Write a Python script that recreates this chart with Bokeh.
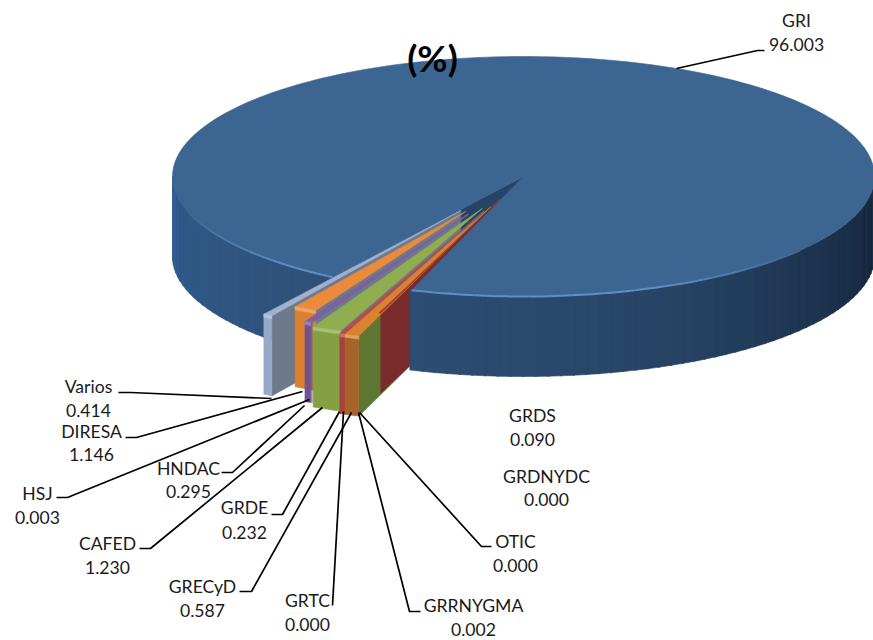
import math
from bokeh.plotting import figure
from bokeh.embed import file_html
from bokeh.resources import INLINE
from bokeh.models import ColumnDataSource
from bokeh.core.properties import value

# ---- data (clockwise from the big slice's end)
names = ["GRI", "GRDS", "GRDNYDC", "OTIC", "GRRNYGMA", "GRECyD", "GRTC", "GRDE",
         "CAFED", "HSJ", "HNDAC", "DIRESA", "Varios"]
values = [96.003, 0.090, 0.000, 0.000, 0.002, 0.587, 0.000, 0.232,
          1.230, 0.003, 0.295, 1.146, 0.414]
value_labels = ["96.003", "0.090", "0.000", "0.000", "0.002", "0.587", "0.000", "0.232",
                "1.230", "0.003", "0.295", "1.146", "0.414"]

# ---- look of each slice: explosion, radius, top, rim, wall, turn (degrees)
STYLE = {
    "GRDS":     (0.20, 1.01, "#a23a36", "#7a2b2b", "#7a2b2b", 1.0),
    "GRECyD":   (0.27, 1.14, "#d9822f", "#a5652a", "#5e7732", 0.3),
    "GRTC":     (0.31, 1.10, "#5b7fb5", "#5577aa", "#5577aa", 0),
    "GRDE":     (0.31, 1.10, "#b84a47", "#a8403e", "#7a2b2b", 0),
    "CAFED":    (0.29, 1.10, "#90ad4f", "#85a043", "#5e7732", -0.3),
    "HSJ":      (0.35, 1.01, "#7d609f", "#6f5290", "#5a4278", 0),
    "HNDAC":    (0.35, 1.01, "#7d609f", "#6f5290", "#5a4278", 0),
    "DIRESA":   (0.335, 0.93, "#ec8a3c", "#db8030", "#b06a28", 0),
    "Varios":   (0.335, 1.03, "#9fb1cf", "#97a9c9", "#6c7a8c", 0),
}

# ---- label layout: name xy, value xy, leader polyline (elbow points + end)
LABELS = {
    "GRI":      ((796, 20), (796, 44), [(764, 50), (757, 50), (676, 68)]),
    "Varios":   ((88, 386), (88, 410), [(118, 392), (130, 392), (271, 398)]),
    "DIRESA":   ((91, 431), (91, 454), [(125, 437), (136, 437), (302, 391)]),
    "HSJ":      ((37, 493), (37, 517), [(56, 497), (67, 497), (309, 399)]),
    "HNDAC":    ((188, 468), (188, 491), [(221, 472), (232, 472), (304, 405)]),
    "CAFED":    ((107, 543), (107, 567), [(139, 548), (150, 548), (322, 407)]),
    "GRDE":     ((244, 507), (244, 532), [(271, 514), (282, 514), (339, 411)]),
    "GRECyD":   ((202, 586), (202, 610), [(239, 591), (251, 591), (351, 412)]),
    "GRTC":     ((307, 600), (307, 624), [(332, 605), (343, 411)]),
    "GRRNYGMA": ((473, 605), (473, 629), [(420, 611), (409, 611), (358, 412)]),
    "OTIC":     ((515, 541), (515, 565), [(491, 546), (481, 546), (359, 412)]),
    "GRDS":     ((532, 415), (532, 439), None),
    "GRDNYDC":  ((546, 476), (546, 499), None),
}

CX, CY, A, B, DEPTH = 523, 176, 351, 120, 80
W0 = 18.6  # degrees west of south where the small slices begin


def pt(w, r, cu=0.0, cv=0.0, dy=0.0):
    t = math.radians(w)
    return CX + A * (cu - r * math.sin(t)), CY + B * (cv + r * math.cos(t)) + dy


def frange(a, b, n):
    return [a + (b - a) * i / n for i in range(n + 1)]


def mix(c1, c2, f):
    a = [int(c1[i:i + 2], 16) for i in (1, 3, 5)]
    b = [int(c2[i:i + 2], 16) for i in (1, 3, 5)]
    return "#%02x%02x%02x" % tuple(round(x + (y - x) * f) for x, y in zip(a, b))


p = figure(width=873, height=640, x_range=(0, 873), y_range=(640, 0),
           output_backend="svg", toolbar_location=None, min_border=0)
p.axis.visible = False
p.grid.visible = False
p.outline_line_color = None

total = sum(values)
big_sweep = values[0] / total * 360
small_sweep = 360 - big_sweep
gap_end = W0 + small_sweep

polys = {"x": [], "y": [], "c": [], "l": []}


def add(points, fill, line=None):
    polys["x"].append([q[0] for q in points])
    polys["y"].append([q[1] for q in points])
    polys["c"].append(fill)
    polys["l"].append(line or fill)


def wall_strips(stops):
    for s in range(len(stops) - 1):
        (w1, c1), (w2, c2) = stops[s], stops[s + 1]
        n = max(4, int((w2 - w1) / 2))
        ws = frange(w1, w2, n)
        for i in range(n):
            a, b = ws[i], ws[i + 1] + 0.3
            add([pt(a, 1), pt(b, 1), pt(b, 1, dy=DEPTH), pt(a, 1, dy=DEPTH)], mix(c1, c2, i / n))


cum = W0
spans = {}
for name, val in zip(names[1:], values[1:]):
    sweep = val / total * 360
    spans[name] = (cum, cum + sweep)
    cum += sweep


def geom(name):
    w1, w2 = spans[name]
    e, r, top, rim, wall, turn = STYLE[name]
    w1, w2 = w1 + turn, w2 + turn
    m = math.radians((w1 + w2) / 2)
    return w1, w2, -e * math.sin(m), e * math.cos(m), r, top, rim, wall


def slice_wall(name):
    w1, w2, cu, cv, r, top, rim, wall = geom(name)
    add([pt(0, 0, cu, cv), pt(w1, r, cu, cv), pt(w1, r, cu, cv, DEPTH), pt(0, 0, cu, cv, DEPTH)], wall)


# left wall and cut face of the big slice
wall_strips([(gap_end, "#2f5078"), (60, "#2f5682"), (90, "#2d5a8c")])
add([pt(0, 0), pt(gap_end, 1), pt(gap_end, 1, dy=DEPTH), pt(0, 0, dy=DEPTH)], "#254469")

# the side walls that the big slice hides partly
slice_wall("Varios")
slice_wall("GRECyD")
slice_wall("GRDS")

# right wall and top of the big slice
wall_strips([(-90, "#14253a"), (-60, "#1c324e"), (-25, "#274465"), (W0, "#2d4d73")])
arc = [pt(w, 1) for w in frange(gap_end, W0 + 360, 240)]
add([pt(0, 0)] + arc, "#3c6592")

# exploded slices, back to front (the zero-size ones leave no visible mark)
paint_order = ["Varios", "DIRESA", "HNDAC", "HSJ", "CAFED", "GRDE", "GRTC", "GRECyD", "GRDS"]
for name in paint_order:
    w1, w2, cu, cv, r, top, rim, wall = geom(name)
    ws = frange(w1, w2, 8)
    if name != "GRDS":
        add([pt(w, r, cu, cv) for w in ws] + [pt(w, r, cu, cv, DEPTH) for w in reversed(ws)], rim)
    add([pt(0, 0, cu, cv)] + [pt(w, r, cu, cv) for w in ws], top)
    if w2 - w1 > 0.5 and name != "GRDS":
        add([pt(w, r, cu, cv) for w in ws] + [pt(w, r, cu, cv, 3) for w in reversed(ws)], mix(top, "#ffffff", 0.22))

p.patches("x", "y", fill_color="c", line_color="l", line_width=0.6,
          source=ColumnDataSource(polys))

# light bevel along the front of the big slice's top
hx, hy, hc = [], [], []
for lo, hi, far in ((-52, W0, -52), (gap_end, 72, 72)):
    ws = frange(lo, hi, 40)
    for i in range(40):
        a, b = ws[i], ws[i + 1]
        hx.append([pt(a, 1)[0], pt(b, 1)[0]])
        hy.append([pt(a, 1)[1], pt(b, 1)[1]])
        f = min(1.0, abs((a + b) / 2 - far) / 30)
        hc.append(mix("#3c6592", "#5f8fc6", f))
p.multi_line(hx, hy, line_color=hc, line_width=2)

# leaders
lx, ly = [], []
for name in names:
    path = LABELS[name][2]
    if path:
        lx.append([q[0] for q in path])
        ly.append([q[1] for q in path])
p.multi_line(lx, ly, line_color="#000000", line_width=1.7)

# labels
tx, ty, tt = [], [], []
for name, vl in zip(names, value_labels):
    n_xy, v_xy, _ = LABELS[name]
    tx += [n_xy[0], v_xy[0]]
    ty += [n_xy[1], v_xy[1]]
    tt += [name, vl]
p.text(tx, ty, text=tt, text_font=value("Lato"), text_font_size="17.6px", text_color="#1a1a1a",
       text_align="center", text_baseline="middle")

p.text([432], [57], text=["(%)"], text_font=value("Lato"), text_font_style="bold",
       text_font_size="37px", text_color="#000000", text_align="center", text_baseline="middle")

open("out.html", "w").write(file_html(p, INLINE))
